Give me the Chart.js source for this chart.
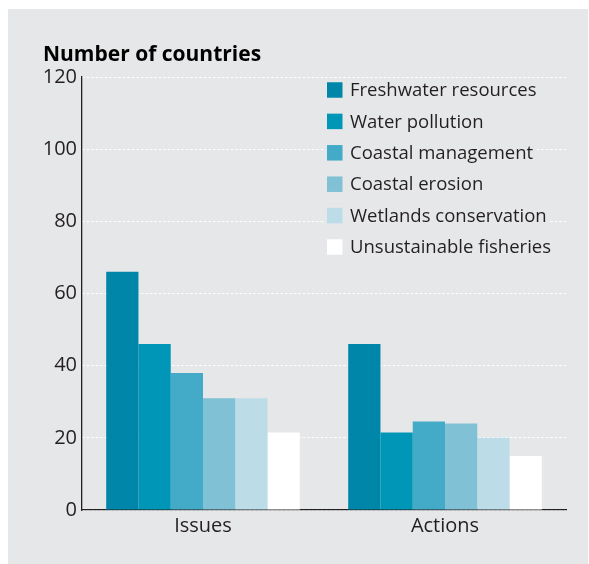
<!DOCTYPE html>
<html>
<head>
<meta charset="utf-8">
<script src="https://cdn.jsdelivr.net/npm/chart.js@4/dist/chart.umd.min.js"></script>
<style>
  html, body { margin: 0; padding: 0; background: #ffffff; }
  #wrap { width: 589px; height: 564px; position: relative; }
</style>
</head>
<body>
<div id="wrap"><canvas id="chart" width="589" height="564"></canvas></div>
<script>
// Categories on the x axis
const categories = ['Issues', 'Actions'];

// Series names, one per bar colour
const seriesNames = [
  'Freshwater resources',
  'Water pollution',
  'Coastal management',
  'Coastal erosion',
  'Wetlands conservation',
  'Unsustainable fisheries'
];

// Number of countries per series (Issues, Actions)
const freshwaterResources    = [66, 46];
const waterPollution         = [46, 21.5];
const coastalManagement      = [38, 24.5];
const coastalErosion         = [31, 24];
const wetlandsConservation   = [31, 20];
const unsustainableFisheries = [21.5, 15];

// Y axis tick values
const yTicks = [0, 20, 40, 60, 80, 100, 120];

const seriesValues = [
  freshwaterResources, waterPollution, coastalManagement,
  coastalErosion, wetlandsConservation, unsustainableFisheries
];
const seriesColors = ['#0086A9', '#0096B7', '#43AAC8', '#81C1D6', '#BCDDE8', '#FFFFFF'];

const PANEL = '#E6E7E8';
const INK = '#231F20';
const FONT = "'Open Sans', 'Noto Sans', sans-serif";

// Grey panel behind the whole chart
const panelPlugin = {
  id: 'panel',
  beforeDraw(chart) {
    const ctx = chart.ctx;
    ctx.save();
    ctx.fillStyle = '#ffffff';
    ctx.fillRect(0, 0, chart.width, chart.height);
    ctx.fillStyle = PANEL;
    ctx.fillRect(8, 9, 580, 555);
    ctx.restore();
  }
};

// Axis title above the y axis
const headingPlugin = {
  id: 'heading',
  afterDraw(chart) {
    const ctx = chart.ctx;
    ctx.save();
    ctx.fillStyle = '#000000';
    ctx.font = "bold 21px " + FONT;
    ctx.textAlign = 'left';
    ctx.textBaseline = 'alphabetic';
    ctx.fillText('Number of countries', 43, 61);
    ctx.restore();
  }
};

// Legend stacked inside the plot, top right
const boxLegendPlugin = {
  id: 'boxLegend',
  afterDraw(chart) {
    const ctx = chart.ctx;
    const x0 = 327, y0 = 90, step = 31.4, box = 15.5;
    ctx.save();
    ctx.font = "18.5px " + FONT;
    ctx.textBaseline = 'middle';
    ctx.textAlign = 'left';
    chart.data.datasets.forEach((ds, i) => {
      const cy = y0 + i * step;
      const w = ctx.measureText(ds.label).width;
      ctx.fillStyle = PANEL;
      ctx.fillRect(x0 - 3, cy - 12, (350 - x0) + w + 6, 24);
      ctx.fillStyle = ds.backgroundColor;
      ctx.fillRect(x0, cy - box / 2, box, box);
      ctx.fillStyle = INK;
      ctx.fillText(ds.label, 350, cy + 1);
    });
    ctx.restore();
  }
};

new Chart(document.getElementById('chart'), {
  type: 'bar',
  data: {
    labels: categories,
    datasets: seriesNames.map((name, i) => ({
      label: name,
      data: seriesValues[i],
      backgroundColor: seriesColors[i],
      borderWidth: 0,
      categoryPercentage: 0.8,
      barPercentage: 1.0
    }))
  },
  options: {
    responsive: false,
    animation: false,
    layout: { padding: { top: 77, left: 0, right: 23, bottom: 0 } },
    plugins: {
      legend: { display: false },
      tooltip: { enabled: false }
    },
    scales: {
      x: {
        grid: { display: false, drawTicks: false },
        border: { display: true, color: INK, width: 1.3 },
        ticks: { color: INK, font: { family: FONT, size: 20 }, padding: 4 },
        afterFit(scale) { scale.height = 54; }
      },
      y: {
        min: 0,
        max: 120,
        afterBuildTicks(scale) { scale.ticks = yTicks.map(v => ({ value: v })); },
        grid: { color: '#ffffff', lineWidth: 1, drawTicks: false },
        border: { display: true, color: INK, width: 1.3, dash: [2.5, 2] },
        ticks: { color: INK, font: { family: FONT, size: 20 }, padding: 5 },
        afterFit(scale) { scale.width = 82; }
      }
    }
  },
  plugins: [panelPlugin, headingPlugin, boxLegendPlugin]
});
</script>
</body>
</html>
